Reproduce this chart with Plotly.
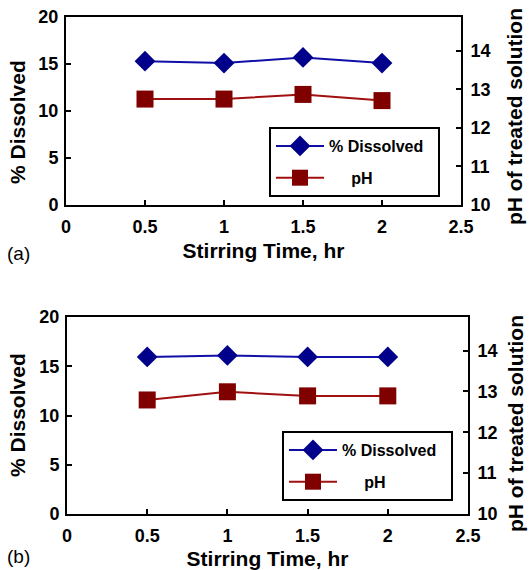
import plotly.graph_objects as go

# ---- data ----
stir_time = [0.5, 1.0, 1.5, 2.0]
dissolved_a = [15.3, 15.1, 15.7, 15.1]
ph_a = [12.75, 12.75, 12.87, 12.71]
dissolved_b = [15.95, 16.1, 15.95, 15.95]
ph_b = [12.79, 12.99, 12.89, 12.89]

x_ticks = [0, 0.5, 1, 1.5, 2, 2.5]
x_ticklabels = ["0", "0.5", "1", "1.5", "2", "2.5"]
left_ticks = [0, 5, 10, 15, 20]
right_ticks = [10, 11, 12, 13, 14]

W, H = 529, 570
FONT = "Liberation Sans, Arial, sans-serif"
BLUE_M, BLUE_L = "#00008B", "#1010A8"
RED_M, RED_L = "#800000", "#A01010"

def px(v):
    return v / W

def py(v):
    return 1 - v / H

fig = go.Figure()

def add_panel(xa, ya, ya2, leg, dis, ph):
    fig.add_trace(go.Scatter(
        x=stir_time, y=dis, xaxis=xa, yaxis=ya, legend=leg,
        name="% Dissolved\u00a0\u00a0", mode="lines+markers", legendgroup=leg + "d",
        line=dict(color=BLUE_L, width=2),
        marker=dict(symbol="diamond", size=16, color=BLUE_M)))
    fig.add_trace(go.Scatter(
        x=stir_time, y=ph, xaxis=xa, yaxis=ya2, legend=leg,
        name="\u00a0\u00a0\u00a0\u00a0\u00a0pH", mode="lines+markers", legendgroup=leg + "p",
        line=dict(color=RED_L, width=2),
        marker=dict(symbol="square", size=17, color=RED_M)))

add_panel("x", "y", "y2", "legend", dissolved_a, ph_a)
add_panel("x2", "y3", "y4", "legend2", dissolved_b, ph_b)

tickfont = dict(family=FONT, size=18, color="black", weight="bold")
titlefont = dict(family=FONT, size=21, color="black", weight="bold")

def xaxis_cfg(dom, anchor, standoff):
    return dict(domain=dom, anchor=anchor, range=[0, 2.5], tickvals=x_ticks,
                ticktext=x_ticklabels, ticks="inside", ticklen=5, tickwidth=1.5,
                tickcolor="black", showline=True, linecolor="black", linewidth=2,
                mirror=True, showgrid=False, zeroline=False, tickfont=tickfont,
                ticklabelstandoff=4,
                title=dict(text="Stirring Time, hr", font=titlefont, standoff=standoff),
                automargin=False)

def yleft_cfg(dom, anchor):
    return dict(domain=dom, anchor=anchor, range=[0, 20], tickvals=left_ticks,
                ticks="inside", ticklen=5, tickwidth=1.5, tickcolor="black",
                showline=True, linecolor="black", linewidth=2, showgrid=False,
                zeroline=False, tickfont=tickfont, ticklabelstandoff=2,
                automargin=False)

def yright_cfg(over, anchor, top):
    return dict(overlaying=over, anchor=anchor, side="right", range=[10, top],
                tickvals=right_ticks, ticks="inside", ticklen=5, tickwidth=1.5,
                tickcolor="black", showline=True, linecolor="black", linewidth=2,
                showgrid=False, zeroline=False, tickfont=tickfont,
                ticklabelstandoff=4, automargin=False)

legfont = dict(family=FONT, size=16, color="black", weight="bold")

def legend_cfg(x, y):
    return dict(x=x, y=y, xanchor="left", yanchor="top", bgcolor="white",
                bordercolor="black", borderwidth=2, font=legfont,
                itemwidth=48, traceorder="grouped", tracegroupgap=8)

def ytitle(text, x, y):
    return dict(text=text, x=px(x), y=py(y), xref="paper", yref="paper",
                xanchor="center", yanchor="middle", textangle=-90,
                showarrow=False, font=titlefont)

fig.update_layout(
    width=W, height=H,
    margin=dict(l=0, r=0, t=0, b=0),
    plot_bgcolor="white", paper_bgcolor="white",
    xaxis=xaxis_cfg([px(66), px(461)], "y", 8),
    yaxis=yleft_cfg([py(205), py(17)], "x"),
    yaxis2=yright_cfg("y", "x", 14.88),
    xaxis2=xaxis_cfg([px(67), px(468)], "y3", 12),
    yaxis3=yleft_cfg([py(514), py(317)], "x2"),
    yaxis4=yright_cfg("y3", "x2", 14.82),
    legend=legend_cfg(px(269), py(127)),
    legend2=legend_cfg(px(282), py(431)),
    annotations=[
        ytitle("% Dissolved", 17, 122),
        ytitle("pH of treated solution", 515, 117),
        ytitle("% Dissolved", 17, 415),
        ytitle("pH of treated solution", 515, 424),
        dict(text="(a)", x=px(5), y=py(253), xref="paper", yref="paper",
             xanchor="left", yanchor="middle", showarrow=False,
             font=dict(family=FONT, size=19, color="black")),
        dict(text="(b)", x=px(5), y=py(556), xref="paper", yref="paper",
             xanchor="left", yanchor="middle", showarrow=False,
             font=dict(family=FONT, size=19, color="black")),
    ],
)

fig.write_html("out.html")
